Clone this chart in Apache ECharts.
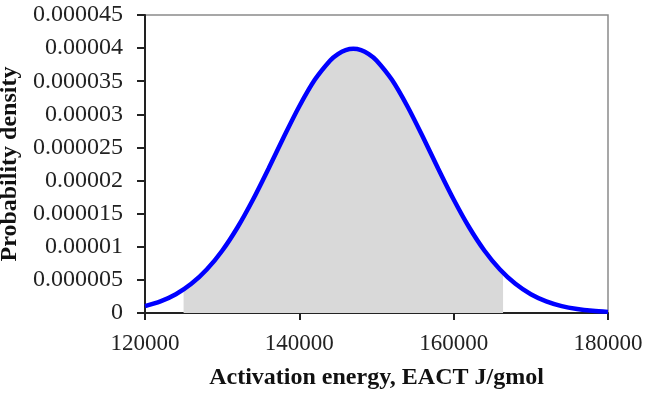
<!DOCTYPE html>
<html>
<head>
<meta charset="utf-8">
<script src="https://cdn.jsdelivr.net/npm/echarts@6/dist/echarts.min.js"></script>
<style>
  html, body { margin: 0; padding: 0; background: #fff; }
  #chart { width: 645px; height: 394px; }
</style>
</head>
<body>
<div id="chart"></div>
<script>
// Activation energy (J/gmol) sample points
const energy = [
  120000, 122000, 124000, 126000, 128000, 130000, 132000, 134000, 136000, 138000,
  140000, 142000, 144000, 145000, 146000, 147000, 148000, 149000, 150000, 152000,
  154000, 156000, 158000, 160000, 162000, 164000, 166000, 168000, 170000, 172000,
  174000, 176000, 178000, 180000
];
// Probability density at each point, in units of 1e-6
const densityMicro = [
  1.04, 1.75, 2.83, 4.40, 6.56, 9.40, 12.95, 17.14, 21.79, 26.61,
  31.22, 35.21, 38.14, 39.10, 39.69, 39.89, 39.69, 39.10, 38.14, 35.21,
  31.22, 26.61, 21.79, 17.14, 12.95, 9.40, 6.56, 4.40, 2.83, 1.75,
  1.04, 0.60, 0.33, 0.17
];
// Shaded interval bounds and the density at each bound (1e-6 units)
const shadeStart = 125000;
const shadeEnd = 166400;
const shadeStartMicro = 3.55;
const shadeEndMicro = 6.08;

const xTickLabels = ['120000', '140000', '160000', '180000'];
const yTickLabels = ['0', '0.000005', '0.00001', '0.000015', '0.00002',
                     '0.000025', '0.00003', '0.000035', '0.00004', '0.000045'];

const curve = energy.map((e, i) => [e, densityMicro[i] * 1e-6]);
const shaded = [[shadeStart, shadeStartMicro * 1e-6]]
  .concat(curve.filter(p => p[0] > shadeStart && p[0] < shadeEnd))
  .concat([[shadeEnd, shadeEndMicro * 1e-6]]);

const font = '"Liberation Serif", "Times New Roman", serif';
const chart = echarts.init(document.getElementById('chart'), null, { renderer: 'canvas' });

chart.setOption({
  animation: false,
  backgroundColor: '#ffffff',
  grid: {
    left: 145, right: 37, top: 15, bottom: 81,
    outerBoundsMode: 'none', containLabel: false,
    show: true, borderColor: '#8a8a8a', borderWidth: 1.5, backgroundColor: 'transparent'
  },
  xAxis: {
    type: 'value', min: 120000, max: 180000, interval: 20000,
    name: 'Activation energy, EACT J/gmol',
    nameLocation: 'middle', nameGap: 53,
    nameTextStyle: { fontFamily: font, fontSize: 24, fontWeight: 'bold', color: '#111' },
    axisLine: { show: true, onZero: false, lineStyle: { color: '#222', width: 2 } },
    axisTick: { show: true, length: 7, lineStyle: { color: '#222', width: 2 } },
    axisLabel: {
      fontFamily: font, fontSize: 23, color: '#222', margin: 19,
      formatter: v => xTickLabels[Math.round((v - 120000) / 20000)]
    },
    splitLine: { show: false }
  },
  yAxis: {
    type: 'value', min: 0, max: 0.000045, interval: 0.000005,
    name: 'Probability density',
    nameLocation: 'middle', nameGap: 119,
    nameTextStyle: { fontFamily: font, fontSize: 24, fontWeight: 'bold', color: '#111' },
    axisLine: { show: true, lineStyle: { color: '#222', width: 2 } },
    axisTick: { show: true, length: 8, lineStyle: { color: '#222', width: 2 } },
    axisLabel: {
      fontFamily: font, fontSize: 24, color: '#222', margin: 22,
      formatter: v => yTickLabels[Math.round(v / 0.000005)]
    },
    splitLine: { show: false }
  },
  series: [
    {
      type: 'line',
      data: shaded,
      smooth: 0.3,
      symbol: 'none',
      lineStyle: { width: 0, opacity: 0 },
      areaStyle: { color: '#d9d9d9', opacity: 1 },
      z: 1
    },
    {
      type: 'line',
      data: curve,
      smooth: 0.3,
      symbol: 'none',
      lineStyle: { color: '#0000ff', width: 4.5 },
      z: 3
    }
  ]
});
</script>
</body>
</html>
